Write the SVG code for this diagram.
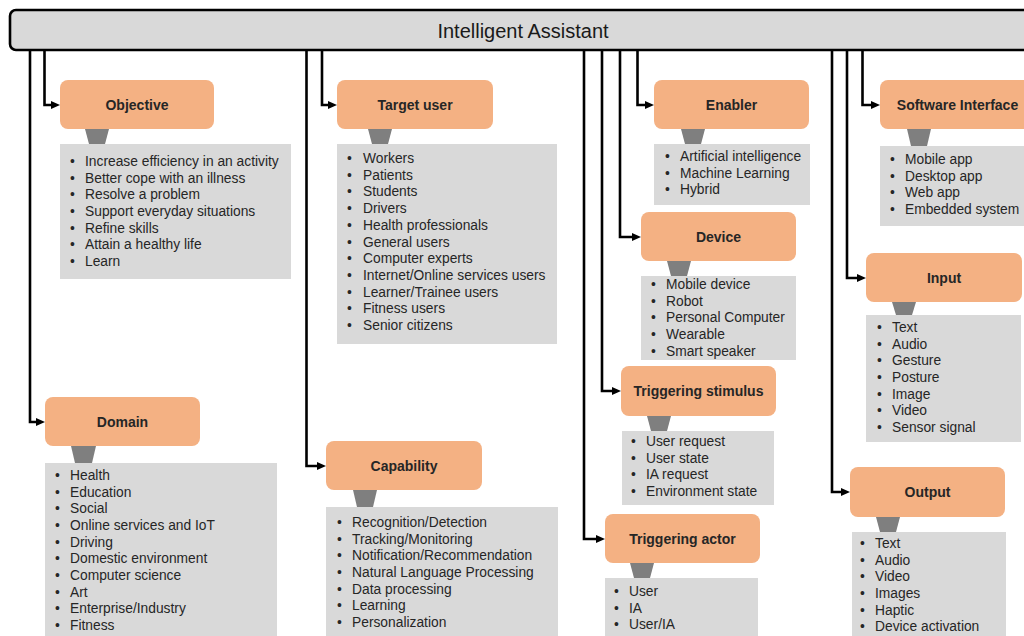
<svg xmlns="http://www.w3.org/2000/svg" width="1024" height="636" viewBox="0 0 1024 636">
<style>
.hd{fill:#f4b183;}
.ls{fill:#d9d9d9;}
.tp{fill:#7f7f7f;}
.ht{font-family:"Liberation Sans",Arial,sans-serif;font-size:14px;font-weight:bold;fill:#262626;text-anchor:middle;}
.it{font-family:"Liberation Sans",Arial,sans-serif;font-size:13.8px;fill:#262626;}
.cn{fill:none;stroke:#000;stroke-width:2.6;}
.title{font-family:"Liberation Sans",Arial,sans-serif;font-size:20px;fill:#1a1a1a;text-anchor:middle;}
</style>
<defs>
<marker id="ah" viewBox="0 0 9 8" refX="3" refY="4" markerWidth="9" markerHeight="8" markerUnits="userSpaceOnUse" orient="auto">
<path d="M0,0 L9,4 L0,8 z" fill="#000"/>
</marker>
</defs>
<rect width="1024" height="636" fill="#ffffff"/>

<g id="connectors">
<path class="cn" marker-end="url(#ah)" d="M44.5 49 V105 H54"/>
<path class="cn" marker-end="url(#ah)" d="M30 49 V422 H39"/>
<path class="cn" marker-end="url(#ah)" d="M322 49 V105 H331"/>
<path class="cn" marker-end="url(#ah)" d="M306.5 49 V466 H320"/>
<path class="cn" marker-end="url(#ah)" d="M584 49 V539 H599"/>
<path class="cn" marker-end="url(#ah)" d="M602 49 V391 H615"/>
<path class="cn" marker-end="url(#ah)" d="M620 49 V237 H635"/>
<path class="cn" marker-end="url(#ah)" d="M637.5 49 V105 H648"/>
<path class="cn" marker-end="url(#ah)" d="M832 49 V492 H844"/>
<path class="cn" marker-end="url(#ah)" d="M847 49 V278 H860"/>
<path class="cn" marker-end="url(#ah)" d="M862.5 49 V105 H874"/>
</g>

<g id="root">
<rect x="10" y="10" width="1030" height="40" rx="6" fill="#d9d9d9" stroke="#000" stroke-width="2.6"/>
<text class="title" x="523" y="38">Intelligent Assistant</text>
</g>

<g id="objective">
<rect class="hd" x="60" y="80" width="154" height="49" rx="8"/>
<text class="ht" x="137" y="109.5">Objective</text>
<polygon class="tp" points="85,129 109,129 105,144 89,144"/>
<rect class="ls" x="60" y="144" width="231" height="135"/>
<g class="it">
<text y="166"><tspan x="70">•</tspan><tspan x="85">Increase efficiency in an activity</tspan></text>
<text y="182.7"><tspan x="70">•</tspan><tspan x="85">Better cope with an illness</tspan></text>
<text y="199.3"><tspan x="70">•</tspan><tspan x="85">Resolve a problem</tspan></text>
<text y="216"><tspan x="70">•</tspan><tspan x="85">Support everyday situations</tspan></text>
<text y="232.7"><tspan x="70">•</tspan><tspan x="85">Refine skills</tspan></text>
<text y="249.3"><tspan x="70">•</tspan><tspan x="85">Attain a healthy life</tspan></text>
<text y="266"><tspan x="70">•</tspan><tspan x="85">Learn</tspan></text>
</g>
</g>

<g id="target-user">
<rect class="hd" x="337" y="80" width="156" height="49" rx="8"/>
<text class="ht" x="415" y="109.5">Target user</text>
<polygon class="tp" points="368,129 392,129 388,144 372,144"/>
<rect class="ls" x="337" y="144" width="220" height="200"/>
<g class="it">
<text y="163"><tspan x="347">•</tspan><tspan x="363">Workers</tspan></text>
<text y="179.7"><tspan x="347">•</tspan><tspan x="363">Patients</tspan></text>
<text y="196.4"><tspan x="347">•</tspan><tspan x="363">Students</tspan></text>
<text y="213.1"><tspan x="347">•</tspan><tspan x="363">Drivers</tspan></text>
<text y="229.8"><tspan x="347">•</tspan><tspan x="363">Health professionals</tspan></text>
<text y="246.5"><tspan x="347">•</tspan><tspan x="363">General users</tspan></text>
<text y="263.2"><tspan x="347">•</tspan><tspan x="363">Computer experts</tspan></text>
<text y="279.9"><tspan x="347">•</tspan><tspan x="363">Internet/Online  services users</tspan></text>
<text y="296.6"><tspan x="347">•</tspan><tspan x="363">Learner/Trainee users</tspan></text>
<text y="313.3"><tspan x="347">•</tspan><tspan x="363">Fitness users</tspan></text>
<text y="330"><tspan x="347">•</tspan><tspan x="363">Senior citizens</tspan></text>
</g>
</g>

<g id="enabler">
<rect class="hd" x="654" y="80" width="155" height="49" rx="8"/>
<text class="ht" x="731.5" y="109.5">Enabler</text>
<polygon class="tp" points="681,129 705,129 701,144 685,144"/>
<rect class="ls" x="654" y="144" width="156" height="61"/>
<g class="it">
<text y="161"><tspan x="665">•</tspan><tspan x="680">Artificial intelligence</tspan></text>
<text y="177.7"><tspan x="665">•</tspan><tspan x="680">Machine Learning</tspan></text>
<text y="194.3"><tspan x="665">•</tspan><tspan x="680">Hybrid</tspan></text>
</g>
</g>

<g id="device">
<rect class="hd" x="641" y="212" width="155" height="49" rx="8"/>
<text class="ht" x="718.5" y="241.5">Device</text>
<polygon class="tp" points="667,261 691,261 687,276 671,276"/>
<rect class="ls" x="641" y="276" width="155" height="84"/>
<g class="it">
<text y="289"><tspan x="651">•</tspan><tspan x="666">Mobile device</tspan></text>
<text y="305.7"><tspan x="651">•</tspan><tspan x="666">Robot</tspan></text>
<text y="322.3"><tspan x="651">•</tspan><tspan x="666">Personal Computer</tspan></text>
<text y="339"><tspan x="651">•</tspan><tspan x="666">Wearable</tspan></text>
<text y="355.7"><tspan x="651">•</tspan><tspan x="666">Smart speaker</tspan></text>
</g>
</g>

<g id="software-interface">
<rect class="hd" x="880" y="80" width="155" height="49" rx="8"/>
<text class="ht" x="957.5" y="109.5">Software Interface</text>
<polygon class="tp" points="907,129 931,129 927,146 911,146"/>
<rect class="ls" x="880" y="146" width="155" height="80"/>
<g class="it">
<text y="164"><tspan x="890">•</tspan><tspan x="905">Mobile app</tspan></text>
<text y="180.7"><tspan x="890">•</tspan><tspan x="905">Desktop app</tspan></text>
<text y="197.3"><tspan x="890">•</tspan><tspan x="905">Web app</tspan></text>
<text y="214"><tspan x="890">•</tspan><tspan x="905">Embedded system</tspan></text>
</g>
</g>

<g id="input">
<rect class="hd" x="866" y="253" width="156" height="49" rx="8"/>
<text class="ht" x="944" y="282.5">Input</text>
<polygon class="tp" points="892,302 916,302 912,315 896,315"/>
<rect class="ls" x="866" y="315" width="155" height="127"/>
<g class="it">
<text y="332"><tspan x="877">•</tspan><tspan x="892">Text</tspan></text>
<text y="348.7"><tspan x="877">•</tspan><tspan x="892">Audio</tspan></text>
<text y="365.3"><tspan x="877">•</tspan><tspan x="892">Gesture</tspan></text>
<text y="382"><tspan x="877">•</tspan><tspan x="892">Posture</tspan></text>
<text y="398.7"><tspan x="877">•</tspan><tspan x="892">Image</tspan></text>
<text y="415.3"><tspan x="877">•</tspan><tspan x="892">Video</tspan></text>
<text y="432"><tspan x="877">•</tspan><tspan x="892">Sensor signal</tspan></text>
</g>
</g>

<g id="triggering-stimulus">
<rect class="hd" x="621" y="366" width="155" height="50" rx="8"/>
<text class="ht" x="698.5" y="396">Triggering stimulus</text>
<polygon class="tp" points="647,416 671,416 667,431 651,431"/>
<rect class="ls" x="622" y="431" width="152" height="74"/>
<g class="it">
<text y="446"><tspan x="631">•</tspan><tspan x="646">User request</tspan></text>
<text y="462.7"><tspan x="631">•</tspan><tspan x="646">User state</tspan></text>
<text y="479.3"><tspan x="631">•</tspan><tspan x="646">IA request</tspan></text>
<text y="496"><tspan x="631">•</tspan><tspan x="646">Environment  state</tspan></text>
</g>
</g>

<g id="triggering-actor">
<rect class="hd" x="605" y="514" width="155" height="49" rx="8"/>
<text class="ht" x="682.5" y="543.5">Triggering actor</text>
<polygon class="tp" points="630,563 654,563 650,578 634,578"/>
<rect class="ls" x="605" y="578" width="153" height="62"/>
<g class="it">
<text y="596"><tspan x="614">•</tspan><tspan x="629">User</tspan></text>
<text y="612.7"><tspan x="614">•</tspan><tspan x="629">IA</tspan></text>
<text y="629.3"><tspan x="614">•</tspan><tspan x="629">User/IA</tspan></text>
</g>
</g>

<g id="output">
<rect class="hd" x="850" y="467" width="155" height="50" rx="8"/>
<text class="ht" x="927.5" y="497">Output</text>
<polygon class="tp" points="876,517 900,517 896,532 880,532"/>
<rect class="ls" x="852" y="532" width="154" height="108"/>
<g class="it">
<text y="548"><tspan x="860">•</tspan><tspan x="875">Text</tspan></text>
<text y="564.7"><tspan x="860">•</tspan><tspan x="875">Audio</tspan></text>
<text y="581.3"><tspan x="860">•</tspan><tspan x="875">Video</tspan></text>
<text y="598"><tspan x="860">•</tspan><tspan x="875">Images</tspan></text>
<text y="614.7"><tspan x="860">•</tspan><tspan x="875">Haptic</tspan></text>
<text y="631.3"><tspan x="860">•</tspan><tspan x="875">Device activation</tspan></text>
</g>
</g>

<g id="domain">
<rect class="hd" x="45" y="397" width="155" height="49" rx="8"/>
<text class="ht" x="122.5" y="426.5">Domain</text>
<polygon class="tp" points="71,446 96,446 92,463 75,463"/>
<rect class="ls" x="45" y="463" width="232" height="177"/>
<g class="it">
<text y="480"><tspan x="55">•</tspan><tspan x="70">Health</tspan></text>
<text y="496.7"><tspan x="55">•</tspan><tspan x="70">Education</tspan></text>
<text y="513.3"><tspan x="55">•</tspan><tspan x="70">Social</tspan></text>
<text y="530"><tspan x="55">•</tspan><tspan x="70">Online services and IoT</tspan></text>
<text y="546.7"><tspan x="55">•</tspan><tspan x="70">Driving</tspan></text>
<text y="563.3"><tspan x="55">•</tspan><tspan x="70">Domestic environment</tspan></text>
<text y="580"><tspan x="55">•</tspan><tspan x="70">Computer science</tspan></text>
<text y="596.7"><tspan x="55">•</tspan><tspan x="70">Art</tspan></text>
<text y="613.3"><tspan x="55">•</tspan><tspan x="70">Enterprise/Industry</tspan></text>
<text y="630"><tspan x="55">•</tspan><tspan x="70">Fitness</tspan></text>
</g>
</g>

<g id="capability">
<rect class="hd" x="326" y="441" width="156" height="49" rx="8"/>
<text class="ht" x="404" y="470.5">Capability</text>
<polygon class="tp" points="353,490 377,490 373,507 357,507"/>
<rect class="ls" x="326" y="507" width="232" height="133"/>
<g class="it">
<text y="527"><tspan x="337">•</tspan><tspan x="352">Recognition/Detection</tspan></text>
<text y="543.7"><tspan x="337">•</tspan><tspan x="352">Tracking/Monitoring</tspan></text>
<text y="560.3"><tspan x="337">•</tspan><tspan x="352">Notification/Recommendation</tspan></text>
<text y="577"><tspan x="337">•</tspan><tspan x="352">Natural  Language Processing</tspan></text>
<text y="593.7"><tspan x="337">•</tspan><tspan x="352">Data processing</tspan></text>
<text y="610.3"><tspan x="337">•</tspan><tspan x="352">Learning</tspan></text>
<text y="627"><tspan x="337">•</tspan><tspan x="352">Personalization</tspan></text>
</g>
</g>
</svg>
